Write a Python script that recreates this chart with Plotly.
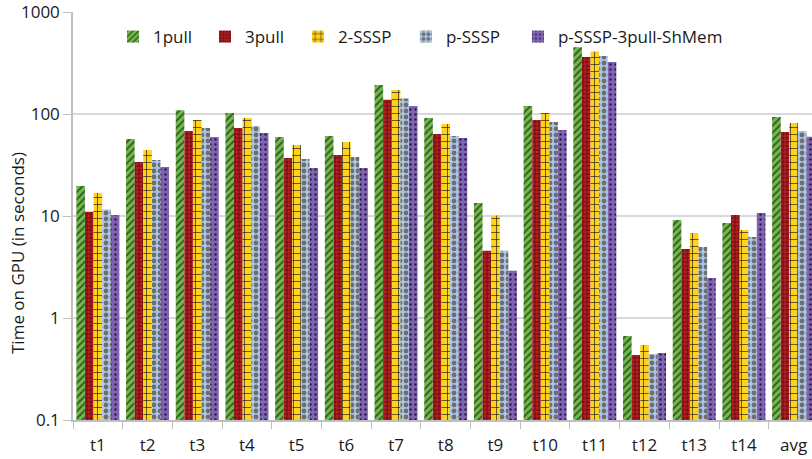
import plotly.graph_objects as go

categories = ["t1", "t2", "t3", "t4", "t5", "t6", "t7", "t8", "t9", "t10",
              "t11", "t12", "t13", "t14", "avg"]

pull1 = [19.7, 56.9, 109, 102, 59.5, 60.8, 192, 91.3, 13.4, 120, 452, 0.666, 9.14, 8.54, 93.5]
pull3 = [11.0, 33.8, 68.0, 72.9, 37.0, 39.6, 138, 63.7, 4.57, 87.3, 362, 0.434, 4.75, 10.2, 66.6]
sssp2 = [16.8, 44.4, 87.3, 91.3, 49.7, 53.1, 172, 79.8, 10.1, 102, 411, 0.544, 6.81, 7.29, 81.6]
psssp = [11.6, 35.4, 72.9, 76.3, 36.2, 37.9, 142, 60.8, 4.57, 83.5, 370, 0.444, 4.97, 6.22, 68.1]
psssp_3pull = [10.2, 30.2, 59.5, 65.1, 29.6, 29.6, 120, 58.2, 2.91, 69.7, 324, 0.454, 2.47, 10.7, 60.0]

series_names = ["1pull", "3pull", "2-SSSP", "p-SSSP", "p-SSSP-3pull-ShMem"]
series_values = [pull1, pull3, sssp2, psssp, psssp_3pull]
tick_values = [0.1, 1, 10, 100, 1000]
tick_labels = ["0.1", "1", "10", "100", "1000"]

styles = [
    dict(bg="#74B84C", fg="#2F5A22", shape="/", size=5, solidity=0.35),
    dict(bg="#B81E22", fg="#4A0B0B", shape="+", size=4, solidity=0.3),
    dict(bg="#FFD21C", fg="#1A1A1A", shape="+", size=7, solidity=0.18),
    dict(bg="#A9C6EA", fg="#6E6E6E", shape=".", size=6, solidity=0.5),
    dict(bg="#7F62B2", fg="#2A1C45", shape=".", size=5, solidity=0.18),
]

# legend placement (paper x of each legend entry)
legend_x = [0.0541, 0.1786, 0.3045, 0.4505, 0.6021]
legend_ids = ["legend", "legend2", "legend3", "legend4", "legend5"]

FONT = "Open Sans"
TXT = "#1a1a1a"

fig = go.Figure()
for name, vals, st, lid in zip(series_names, series_values, styles, legend_ids):
    fig.add_trace(go.Bar(
        x=categories, y=vals, name=name, legend=lid, showlegend=True,
        marker=dict(
            color=st["bg"],
            line=dict(width=0),
            pattern=dict(shape=st["shape"], fgcolor=st["fg"], bgcolor=st["bg"],
                         size=st["size"], solidity=st["solidity"], fillmode="replace"),
        ),
    ))

legend_common = dict(orientation="h", y=0.9387, yanchor="middle", xanchor="left",
                     font=dict(family=FONT, size=17, color=TXT), bgcolor="rgba(0,0,0,0)",
                     visible=True)
layout_legends = {lid: dict(x=lx, **legend_common) for lid, lx in zip(legend_ids, legend_x)}

fig.update_layout(
    width=812, height=459,
    margin=dict(l=73, r=0, t=12, b=39),
    paper_bgcolor="white", plot_bgcolor="white",
    showlegend=True,
    barmode="group", bargap=0.135, bargroupgap=0,
    font=dict(family=FONT, size=17, color=TXT),
    xaxis=dict(range=[-0.5, 14.37], showline=True, linecolor="#BFBFBF", linewidth=1.5,
               ticks="outside", tickson="boundaries", ticklen=7, tickcolor="#BFBFBF",
               tickfont=dict(size=17), ticklabelstandoff=9, showgrid=False, fixedrange=True,
               ticklabeloverflow="allow"),
    yaxis=dict(type="log", range=[-1, 3], showline=True, linecolor="#BFBFBF", linewidth=1.5,
               showgrid=True, gridcolor="#D9D9D9", gridwidth=1.5,
               ticks="outside", ticklen=8, tickcolor="#BFBFBF",
               tickvals=tick_values, ticktext=tick_labels, ticklabeloverflow="allow",
               tickfont=dict(size=17), zeroline=False),
    annotations=[dict(text="Time on GPU (in seconds)", textangle=-90,
                      xref="paper", yref="paper", x=(17 - 73) / 739, y=1 - (253 - 12) / 408,
                      xanchor="center", yanchor="middle", showarrow=False,
                      font=dict(family=FONT, size=17, color=TXT))],
    **layout_legends,
)

fig.write_html("out.html")
